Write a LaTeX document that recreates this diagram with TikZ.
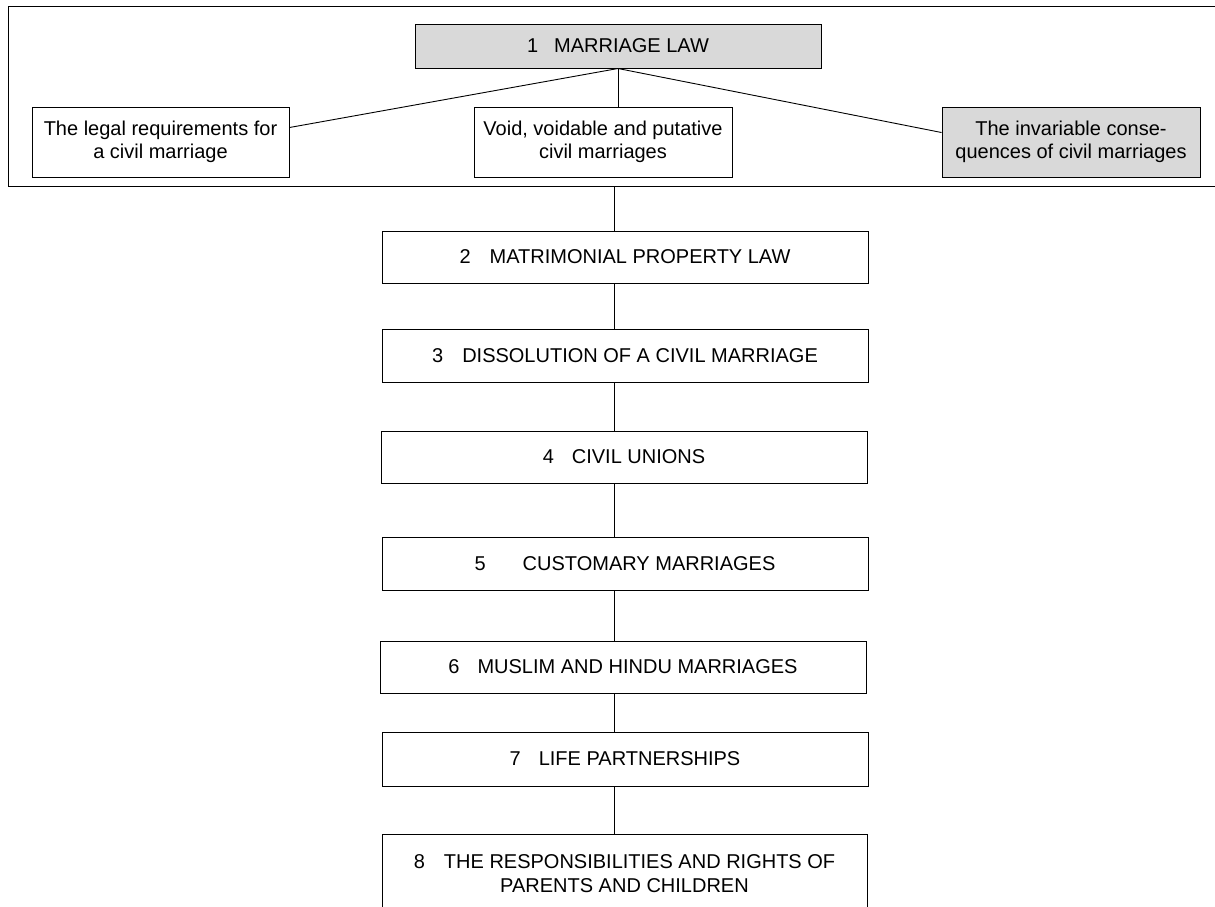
\documentclass[tikz,border=0pt]{standalone}
\usepackage{fontspec}
\setmainfont{Liberation Sans}
\definecolor{boxgray}{HTML}{D9D9D9}
\begin{document}
\begin{tikzpicture}[x=1pt,y=-1pt,
  every node/.style={font=\fontsize{20}{23.5}\selectfont},
  topic/.style={draw=black, line width=1pt, fill=white, rectangle, inner sep=0pt,
                align=center, minimum width=486pt, minimum height=52pt},
  subtopic/.style={draw=black, line width=1pt, fill=white, rectangle, inner sep=0pt,
                align=center, minimum width=257pt, minimum height=70pt},
  shaded/.style={fill=boxgray},
  link/.style={draw=black, line width=0.9pt}]
\useasboundingbox (0,0) rectangle (1215,906);
\clip (0,0) rectangle (1215,906);

% outer frame around the marriage-law group
\node[draw=black, line width=1pt, rectangle, inner sep=0pt,
      minimum width=1220pt, minimum height=180pt, anchor=north west] (frame) at (8,6) {};

% marriage law and its three parts
\node[topic, shaded, minimum width=406pt, minimum height=44pt] (b1) at (618,46) {1\hspace{16pt}MARRIAGE LAW};
\node[subtopic] (req) at (160.5,142) {The legal requirements for\\a civil marriage};
\node[subtopic, minimum width=258pt] (void) at (603,142) {Void, voidable and putative\\civil marriages};
\node[subtopic, shaded, minimum width=258pt] (cons) at (1071,142) {The invariable conse-\\quences of civil marriages};

\draw[link] (b1.south) -- ([yshift=-21pt]req.north east);
\draw[link] (b1.south) -- (void.north -| b1.south);
\draw[link] (b1.south) -- ([yshift=-26pt]cons.north west);

% chapter sequence
\coordinate (spine) at (614,0);
\node[topic] (b2) at (625,257) {2\hspace{19pt}MATRIMONIAL PROPERTY LAW};
\node[topic, minimum height=53pt] (b3) at (625,355.5) {3\hspace{19pt}DISSOLUTION OF A CIVIL MARRIAGE};
\node[topic] (b4) at (624,457) {4\hspace{18pt}CIVIL UNIONS};
\node[topic, minimum height=53pt] (b5) at (625,563.5) {5\hspace{37pt}CUSTOMARY MARRIAGES};
\node[topic] (b6) at (623,667) {6\hspace{18pt}MUSLIM AND HINDU MARRIAGES};
\node[topic, minimum height=54pt] (b7) at (625,759) {7\hspace{18pt}LIFE PARTNERSHIPS};
\node[topic, minimum width=485pt, minimum height=78pt, anchor=north] (b8) at (624.5,834)
  {8\hspace{19pt}THE RESPONSIBILITIES AND RIGHTS OF\\PARENTS AND CHILDREN};

\draw[link] (frame.south -| spine) -- (b2.north -| spine);
\draw[link] (b2.south -| spine) -- (b3.north -| spine);
\draw[link] (b3.south -| spine) -- (b4.north -| spine);
\draw[link] (b4.south -| spine) -- (b5.north -| spine);
\draw[link] (b5.south -| spine) -- (b6.north -| spine);
\draw[link] (b6.south -| spine) -- (b7.north -| spine);
\draw[link] (b7.south -| spine) -- (b8.north -| spine);
\end{tikzpicture}
\end{document}
